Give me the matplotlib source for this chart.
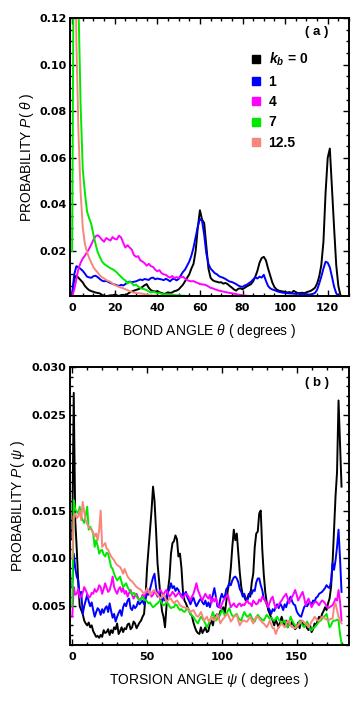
import numpy as np
import matplotlib
matplotlib.use('Agg')
import matplotlib.pyplot as plt
from matplotlib.lines import Line2D
from matplotlib.ticker import MultipleLocator, FormatStrFormatter

plt.rcParams['font.family'] = ['Liberation Sans', 'DejaVu Sans']
plt.rcParams['mathtext.fontset'] = 'custom'
plt.rcParams['mathtext.rm'] = 'Liberation Sans'
plt.rcParams['mathtext.it'] = 'Liberation Sans:italic'
plt.rcParams['mathtext.bf'] = 'Liberation Sans:bold'
plt.rcParams['mathtext.bfit'] = 'Liberation Sans:italic:bold'

# ---------------- data (values in units of 1e-3) ----------------
theta = np.arange(0, 129)   # bond angle, degrees
psi = np.arange(0, 181)     # torsion angle, degrees

series_labels = [r'$\mathbfit{k}_{\mathbfit{b}}$ = 0', '1', '4', '7', '12.5']
series_colors = ['#000000', '#0000ff', '#ff00ff', '#00e800', '#f7877d']

bond_k0 = [
    1.0, 8.0, 9.5, 8.5, 7.5, 6.5, 5.0, 4.0, 3.2, 2.8,
    2.5, 2.2, 2.0, 1.8, 1.2, 0.8, 0.6, 0.8, 1.0, 1.0,
    1.3, 1.0, 0.7, 1.1, 1.2, 1.0, 1.6, 2.2, 2.6, 3.0,
    3.3, 3.6, 4.0, 4.6, 5.3, 5.8, 4.2, 3.2, 2.8, 2.6,
    2.8, 2.3, 2.0, 1.6, 1.8, 2.3, 2.0, 2.2, 2.8, 3.0,
    3.5, 4.5, 5.5, 7.0, 8.5, 10.0, 12.5, 14.5, 20.0, 30.0,
    37.5, 33.5, 32.0, 22.0, 12.5, 8.5, 7.5, 7.0, 6.8, 6.5,
    6.6, 6.0, 6.3, 5.8, 5.0, 4.3, 3.5, 3.0, 3.8, 4.0,
    3.6, 4.2, 4.8, 5.3, 5.8, 7.0, 9.0, 11.5, 15.0, 17.0,
    17.5, 16.0, 12.5, 9.5, 6.5, 4.5, 3.5, 3.0, 2.8, 2.6,
    2.5, 2.2, 2.4, 2.0, 2.9, 2.4, 1.9, 2.0, 2.1, 1.9,
    2.3, 2.6, 2.9, 3.5, 4.2, 6.0, 9.0, 14.0, 24.0, 45.0,
    60.0, 64.0, 47.0, 30.0, 14.0, 5.0, 1.0, 0.3, 0.2]
bond_k1 = [
    1.4, 10.0, 13.5, 13.0, 12.3, 11.5, 10.3, 9.0, 8.7, 8.5,
    9.2, 9.4, 8.8, 8.0, 7.3, 7.0, 7.2, 6.7, 6.3, 5.9,
    5.6, 5.3, 5.0, 5.5, 5.2, 5.8, 6.5, 6.9, 6.6, 6.8,
    7.0, 7.4, 7.8, 7.5, 8.0, 7.8, 7.6, 8.4, 8.6, 7.9,
    8.2, 8.0, 7.8, 7.5, 8.1, 7.6, 7.0, 7.9, 8.1, 7.4,
    8.0, 9.5, 11.0, 12.0, 13.7, 15.5, 18.0, 21.5, 26.0, 30.5,
    33.8, 33.0, 27.0, 19.0, 14.5, 12.5, 11.5, 10.5, 10.0, 9.2,
    8.8, 8.5, 8.0, 7.4, 6.9, 6.7, 6.3, 5.8, 5.2, 4.8,
    4.6, 5.2, 5.5, 6.2, 6.8, 7.8, 8.7, 8.2, 9.0, 8.6,
    9.8, 7.2, 5.0, 4.0, 3.5, 3.2, 2.8, 2.5, 2.3, 2.1,
    2.0, 1.9, 1.8, 1.8, 1.7, 1.6, 1.7, 1.5, 1.6, 1.4,
    1.5, 1.3, 1.4, 1.6, 2.0, 3.3, 6.0, 9.0, 12.5, 15.4,
    15.0, 13.0, 9.0, 4.7, 1.9, 0.6, 0.3, 0.3, 0.3]
bond_k4 = [
    0.5, 3.5, 8.0, 12.5, 15.0, 16.8, 18.0, 19.5, 21.0, 22.8,
    24.8, 26.3, 26.8, 26.0, 24.8, 24.0, 25.6, 25.0, 24.5, 26.0,
    25.2, 25.0, 26.6, 25.8, 23.5, 21.5, 22.5, 21.5, 20.6, 18.3,
    17.5, 17.8, 16.0, 15.5, 14.8, 13.7, 14.5, 13.5, 13.2, 12.0,
    11.3, 11.8, 10.5, 10.0, 9.8, 9.0, 8.6, 9.3, 8.4, 8.8,
    8.5, 8.7, 9.0, 8.2, 7.5, 7.2, 7.0, 7.1, 6.6, 6.3,
    5.8, 5.7, 5.6, 5.3, 4.8, 4.2, 4.0, 3.6, 3.3, 3.0,
    2.8, 2.6, 2.4, 2.2, 2.0, 1.9, 1.7, 1.5, 1.3, 1.2,
    1.0, 0.9, 0.8, 0.7, 0.6, 0.6, 0.5, 0.5, 0.5, 0.5,
    0.5, 0.5, 0.5, 0.4, 0.4, 0.4, 0.4, 0.4, 0.4, 0.4,
    0.4, 0.4, 0.4, 0.4, 0.4, 0.4, 0.4, 0.4, 0.4, 0.4,
    0.4, 0.4, 0.4, 0.4, 0.4, 0.4, 0.4, 0.4, 0.4, 0.4,
    0.4, 0.4, 0.4, 0.4, 0.4, 0.4, 0.4, 0.4, 0.4]
bond_k7 = [
    20.0, 200.0, 200.0, 125.0, 82.0, 55.0, 45.0, 37.0, 34.0, 31.5,
    27.0, 23.0, 19.5, 17.5, 15.5, 14.5, 13.8, 13.2, 12.6, 12.2,
    11.6, 10.8, 9.8, 8.9, 8.0, 7.4, 6.0, 6.8, 6.2, 5.2,
    5.6, 4.8, 4.2, 3.8, 3.6, 3.2, 2.6, 2.2, 2.5, 2.3,
    1.9, 2.0, 1.6, 1.4, 1.5, 1.3, 1.4, 1.2, 1.2, 1.0,
    1.1, 0.9, 0.8, 0.8, 0.6, 0.5, 0.4, 0.3, 0.3, 0.3,
    0.3, 0.3, 0.3, 0.3, 0.3, 0.3, 0.3, 0.3, 0.3, 0.3,
    0.3, 0.3, 0.3, 0.3, 0.3, 0.3, 0.3, 0.3, 0.3, 0.3,
    0.3, 0.3, 0.3, 0.3, 0.3, 0.3, 0.3, 0.3, 0.3, 0.3,
    0.3, 0.3, 0.3, 0.3, 0.3, 0.3, 0.3, 0.3, 0.3, 0.3,
    0.3, 0.3, 0.3, 0.3, 0.3, 0.3, 0.3, 0.3, 0.3, 0.3,
    0.3, 0.3, 0.3, 0.3, 0.3, 0.3, 0.3, 0.3, 0.3, 0.3,
    0.3, 0.3, 0.3, 0.3, 0.3, 0.3, 0.3, 0.3, 0.3]
bond_k12 = [
    200.0, 200.0, 110.0, 70.0, 45.0, 30.0, 23.0, 19.5, 17.0, 15.0,
    13.0, 11.8, 10.8, 9.5, 8.8, 8.2, 7.6, 7.1, 6.8, 6.0,
    5.4, 5.0, 4.6, 4.3, 4.0, 3.6, 3.2, 2.8, 2.4, 2.1,
    2.0, 1.9, 1.8, 1.7, 1.5, 1.3, 1.1, 1.0, 0.9, 0.9,
    0.8, 0.7, 0.6, 0.6, 0.5, 0.5, 0.4, 0.4, 0.4, 0.3,
    0.3, 0.3, 0.3, 0.3, 0.3, 0.3, 0.3, 0.3, 0.3, 0.3,
    0.3, 0.3, 0.3, 0.3, 0.3, 0.3, 0.3, 0.3, 0.3, 0.3,
    0.3, 0.3, 0.3, 0.3, 0.3, 0.3, 0.3, 0.3, 0.3, 0.3,
    0.3, 0.3, 0.3, 0.3, 0.3, 0.3, 0.3, 0.3, 0.3, 0.3,
    0.3, 0.3, 0.3, 0.3, 0.3, 0.3, 0.3, 0.3, 0.3, 0.3,
    0.3, 0.3, 0.3, 0.3, 0.3, 0.3, 0.3, 0.3, 0.3, 0.3,
    0.3, 0.3, 0.3, 0.3, 0.3, 0.3, 0.3, 0.3, 0.3, 0.3,
    0.3, 0.3, 0.3, 0.3, 0.3, 0.3, 0.3, 0.3, 0.3]

tors_k0 = [
    12.0, 27.3, 14.0, 11.0, 7.5, 5.0, 4.6, 4.2, 3.5, 3.2,
    3.0, 3.3, 2.8, 3.0, 2.4, 2.1, 1.8, 1.9, 1.7, 2.0,
    1.8, 2.5, 2.2, 2.3, 2.6, 2.0, 2.5, 2.2, 2.8, 2.6,
    3.2, 2.1, 2.4, 2.8, 2.3, 2.7, 2.6, 3.1, 3.2, 2.6,
    2.8, 3.4, 3.2, 2.7, 3.0, 3.3, 3.5, 3.9, 4.2, 6.0,
    9.0, 11.0, 13.0, 15.0, 17.5, 16.0, 13.0, 9.5, 7.7, 6.0,
    4.5, 3.9, 2.8, 5.0, 6.7, 8.0, 10.5, 11.6, 11.8, 12.4,
    12.0, 10.2, 10.5, 9.0, 6.5, 5.6, 5.3, 4.9, 4.6, 4.2,
    4.0, 3.3, 2.8, 2.4, 2.2, 2.1, 2.8, 2.2, 2.5, 2.8,
    2.3, 2.4, 3.2, 3.5, 3.0, 3.8, 4.0, 4.2, 3.8, 4.5,
    4.6, 4.9, 4.3, 5.5, 6.7, 7.5, 9.0, 11.2, 13.0, 11.9,
    12.6, 10.5, 8.5, 7.0, 6.2, 6.0, 5.6, 5.8, 6.3, 6.0,
    7.5, 8.4, 11.2, 12.6, 12.8, 14.7, 15.0, 11.0, 8.4, 6.5,
    5.4, 4.6, 4.2, 3.8, 3.5, 3.0, 3.6, 3.2, 2.8, 3.4,
    3.9, 3.3, 2.9, 3.5, 2.8, 3.3, 3.0, 3.4, 3.0, 2.6,
    2.8, 3.3, 2.7, 3.5, 3.2, 2.9, 3.1, 2.7, 2.5, 3.0,
    2.3, 2.6, 3.2, 3.0, 3.5, 3.9, 3.6, 4.2, 4.5, 4.9,
    4.6, 5.3, 5.8, 7.0, 9.5, 13.0, 16.5, 19.0, 26.5, 22.0,
    17.5]
tors_k1 = [
    7.0, 10.5, 9.0, 8.1, 7.7, 6.0, 6.5, 4.2, 5.0, 5.6,
    6.2, 5.5, 5.0, 5.4, 4.6, 3.9, 4.4, 4.8, 4.6, 4.1,
    4.7, 4.3, 4.8, 5.0, 4.4, 5.3, 4.5, 3.8, 4.2, 3.4,
    3.9, 4.3, 4.6, 4.0, 4.9, 5.3, 5.0, 5.6, 5.8, 4.8,
    4.6, 5.1, 4.8, 5.0, 5.5, 5.2, 5.4, 5.6, 5.2, 5.8,
    6.3, 6.2, 6.8, 7.4, 8.0, 8.4, 7.0, 6.0, 6.4, 5.7,
    5.4, 5.9, 5.6, 6.1, 6.5, 6.8, 7.4, 6.9, 7.1, 6.6,
    6.9, 6.7, 6.3, 6.0, 6.4, 6.2, 6.5, 5.9, 5.6, 5.2,
    5.6, 5.9, 5.4, 5.0, 5.3, 5.6, 5.8, 5.4, 5.2, 5.6,
    5.0, 5.4, 4.9, 5.6, 6.2, 6.9, 6.0, 5.0, 4.9, 5.8,
    6.3, 5.9, 6.0, 6.8, 7.0, 7.4, 7.2, 7.7, 8.0, 8.1,
    7.9, 7.5, 6.8, 6.5, 6.0, 6.3, 5.8, 5.6, 6.0, 6.5,
    6.3, 6.7, 6.6, 7.5, 7.9, 7.9, 7.2, 6.7, 5.8, 5.6,
    5.2, 4.9, 4.6, 4.2, 4.7, 4.5, 4.9, 5.2, 4.8, 5.3,
    5.0, 4.6, 5.2, 4.9, 5.5, 5.7, 6.0, 5.5, 5.2, 5.1,
    4.5, 4.2, 4.0, 3.9, 4.4, 4.9, 5.1, 5.0, 5.3, 5.4,
    5.2, 5.6, 5.5, 5.9, 6.0, 6.3, 6.4, 6.5, 6.7, 6.9,
    7.2, 7.0, 6.9, 7.6, 9.5, 8.8, 9.8, 11.2, 13.0, 10.0,
    6.5]
tors_k4 = [
    3.9, 7.0, 6.2, 6.3, 6.8, 5.9, 6.0, 6.4, 7.0, 6.7,
    6.3, 5.9, 6.0, 6.4, 6.3, 6.8, 6.5, 6.7, 7.2, 7.0,
    6.3, 6.8, 7.4, 6.9, 6.5, 6.7, 7.3, 8.1, 7.0, 6.6,
    6.3, 6.8, 7.0, 6.5, 6.9, 6.3, 6.6, 6.0, 6.4, 6.7,
    6.2, 5.8, 6.1, 6.3, 5.9, 5.6, 5.8, 6.2, 6.0, 6.4,
    6.5, 6.7, 6.3, 6.0, 6.2, 6.6, 6.3, 6.1, 6.5, 6.7,
    6.4, 6.2, 6.5, 6.7, 6.3, 6.0, 6.2, 6.5, 6.3, 6.0,
    6.2, 6.4, 6.3, 6.0, 5.8, 6.1, 6.3, 6.2, 5.9, 5.6,
    6.0, 6.3, 6.8, 7.4, 6.7, 6.3, 5.9, 5.6, 6.0, 6.3,
    6.0, 5.8, 6.2, 5.3, 5.8, 5.5, 5.9, 5.3, 5.0, 4.8,
    5.2, 5.6, 5.8, 6.0, 6.2, 5.5, 4.9, 5.1, 5.3, 5.0,
    4.9, 5.2, 5.3, 5.0, 5.2, 5.1, 5.4, 5.6, 5.3, 5.3,
    5.0, 5.6, 5.4, 5.2, 5.3, 5.7, 5.5, 6.0, 5.8, 5.6,
    5.2, 4.9, 5.4, 5.8, 6.0, 5.3, 4.8, 5.0, 5.1, 5.4,
    5.6, 5.9, 6.1, 6.3, 5.8, 5.3, 5.7, 6.0, 6.3, 6.7,
    6.2, 5.6, 5.9, 6.2, 6.5, 5.9, 5.1, 5.5, 5.8, 5.3,
    4.9, 5.2, 5.4, 5.5, 5.3, 5.1, 5.4, 5.6, 5.5, 5.3,
    5.0, 4.8, 4.9, 5.0, 5.1, 5.4, 5.8, 5.6, 6.7, 5.5,
    3.5]
tors_k7 = [
    5.0, 16.1, 15.1, 14.9, 14.7, 15.4, 14.4, 14.0, 13.7, 14.5,
    15.4, 13.0, 13.3, 13.0, 12.6, 11.2, 11.9, 11.3, 10.5, 10.8,
    10.9, 10.4, 10.2, 10.6, 10.5, 9.8, 9.1, 8.9, 8.4, 8.0,
    7.7, 7.9, 8.1, 7.5, 7.0, 7.2, 7.4, 7.0, 6.7, 6.5,
    6.2, 6.4, 6.3, 6.0, 5.8, 5.6, 5.8, 6.0, 5.7, 5.6,
    5.5, 5.3, 5.4, 5.1, 4.9, 5.0, 5.2, 5.3, 5.5, 5.6,
    5.3, 5.1, 5.2, 5.4, 5.3, 5.0, 4.8, 4.9, 4.9, 5.2,
    5.1, 4.8, 4.6, 4.7, 4.5, 4.4, 4.6, 4.8, 4.5, 4.2,
    4.0, 3.9, 3.6, 3.4, 3.2, 3.6, 3.9, 3.7, 3.5, 3.2,
    2.8, 3.1, 3.5, 3.9, 4.4, 3.9, 3.5, 3.7, 3.9, 4.2,
    4.6, 4.4, 4.0, 4.2, 4.5, 4.8, 4.3, 4.0, 3.9, 4.1,
    4.2, 3.8, 3.6, 3.5, 4.0, 4.4, 4.1, 3.9, 4.0, 4.2,
    3.8, 3.6, 3.4, 3.8, 4.1, 3.9, 3.7, 3.6, 3.5, 3.8,
    4.1, 3.9, 3.7, 3.8, 3.6, 3.5, 3.7, 3.9, 3.6, 3.4,
    3.2, 3.4, 3.5, 3.1, 2.8, 3.3, 3.9, 3.5, 3.2, 3.0,
    2.8, 3.1, 3.5, 3.2, 3.0, 2.8, 3.1, 3.4, 3.0, 2.6,
    2.5, 2.7, 2.8, 3.0, 3.2, 3.4, 3.5, 3.7, 3.9, 4.0,
    4.2, 3.5, 2.8, 3.0, 3.4, 3.5, 3.5, 3.6, 3.5, 2.1,
    1.1]
tors_k12 = [
    10.0, 14.4, 14.7, 14.2, 14.4, 15.0, 14.0, 15.9, 14.9, 14.0,
    13.6, 13.3, 13.1, 13.0, 12.7, 12.3, 12.6, 11.9, 13.0, 15.0,
    11.2, 11.4, 11.6, 11.0, 10.9, 10.5, 10.2, 10.0, 9.8, 9.5,
    9.3, 9.2, 9.1, 8.8, 8.4, 8.9, 8.5, 8.1, 7.9, 7.7,
    7.6, 7.4, 7.2, 7.0, 6.9, 6.8, 6.7, 6.5, 6.3, 6.5,
    6.9, 6.6, 6.2, 6.4, 6.6, 6.7, 6.4, 6.2, 6.0, 5.8,
    6.0, 6.2, 5.9, 5.5, 5.6, 5.8, 5.8, 5.5, 5.3, 5.5,
    5.6, 5.4, 5.1, 5.0, 4.9, 4.9, 4.8, 4.8, 4.6, 4.4,
    4.5, 4.6, 4.3, 4.0, 3.9, 4.1, 4.4, 4.0, 3.5, 3.7,
    3.9, 3.5, 3.4, 3.9, 3.7, 3.5, 3.8, 4.2, 3.7, 3.2,
    3.5, 3.7, 3.9, 4.1, 4.2, 3.8, 3.4, 3.6, 3.9, 4.0,
    4.1, 3.5, 3.0, 3.3, 3.5, 3.5, 3.4, 3.4, 3.7, 3.9,
    3.5, 3.2, 3.6, 3.9, 3.9, 3.7, 3.5, 3.3, 3.2, 3.0,
    2.8, 3.1, 3.5, 3.1, 2.7, 2.7, 2.1, 2.5, 2.8, 3.0,
    3.2, 3.0, 2.8, 3.1, 3.5, 3.4, 3.0, 2.8, 2.8, 2.7,
    2.9, 3.0, 3.2, 3.4, 3.5, 3.3, 3.2, 3.0, 2.8, 3.1,
    3.4, 3.6, 3.9, 3.7, 3.5, 3.5, 3.7, 3.9, 3.8, 3.7,
    3.6, 3.5, 3.6, 3.7, 3.7, 4.9, 5.3, 4.6, 3.9, 3.5,
    3.2]

bond_series = [bond_k0, bond_k1, bond_k4, bond_k7, bond_k12]
tors_series = [tors_k0, tors_k1, tors_k4, tors_k7, tors_k12]

# ---------------- figure ----------------
fig = plt.figure(figsize=(3.6, 7.08), dpi=100)
ax1 = fig.add_axes([70/360, 1-296/708, 279/360, 278/708])
ax2 = fig.add_axes([70/360, 1-645/708, 279/360, 278/708])

for vals, col in zip(bond_series, series_colors):
    ax1.plot(theta, np.array(vals) * 1e-3, color=col, lw=1.4)
for vals, col in zip(tors_series, series_colors):
    ax2.plot(psi, np.array(vals) * 1e-3, color=col, lw=1.4)

ax1.set_xlim(-1, 130)
ax1.set_ylim(0.0007, 0.12)
ax2.set_xlim(-1.5, 185)
ax2.set_ylim(0.00095, 0.030)

ax1.xaxis.set_major_locator(MultipleLocator(20))
ax1.xaxis.set_minor_locator(MultipleLocator(5))
ax1.yaxis.set_major_locator(MultipleLocator(0.02))
ax1.yaxis.set_minor_locator(MultipleLocator(0.005))
ax1.yaxis.set_major_formatter(FormatStrFormatter('%.2f'))
ax2.xaxis.set_major_locator(MultipleLocator(50))
ax2.xaxis.set_minor_locator(MultipleLocator(10))
ax2.yaxis.set_major_locator(MultipleLocator(0.005))
ax2.yaxis.set_minor_locator(MultipleLocator(0.001))
ax2.yaxis.set_major_formatter(FormatStrFormatter('%.3f'))

for ax in (ax1, ax2):
    for sp in ax.spines.values():
        sp.set_linewidth(1.4)
    ax.tick_params(which='both', direction='in', top=True, right=True,
                   width=1.0, labelsize=8.0)
    ax.tick_params(which='major', length=4)
    ax.tick_params(which='minor', length=2.2)
    ax.tick_params(axis='x', which='major', pad=5)
    ax.tick_params(axis='y', which='major', pad=2.5)
    for lab in ax.get_xticklabels() + ax.get_yticklabels():
        lab.set_fontweight('bold')
        lab.set_fontfamily('DejaVu Sans')

ax1.set_xlabel(r'BOND ANGLE $\theta$ ( degrees )', fontsize=10)
ax1.set_ylabel(r'PROBABILITY $P$( $\theta$ )', fontsize=10)
ax2.set_xlabel(r'TORSION ANGLE $\psi$ ( degrees )', fontsize=10)
ax2.set_ylabel(r'PROBABILITY $P$( $\psi$ )', fontsize=10)
ax1.xaxis.set_label_coords(0.5, -0.094)
ax1.yaxis.set_label_coords(-0.122, 0.5)
ax2.xaxis.set_label_coords(0.5, -0.095)
ax2.yaxis.set_label_coords(-0.154, 0.5)

ax1.text(0.883, 0.95, '( a )', transform=ax1.transAxes, ha='center',
         va='center', fontsize=9.5, fontweight='bold')
ax2.text(0.887, 0.941, '( b )', transform=ax2.transAxes, ha='center',
         va='center', fontsize=9.5, fontweight='bold')

handles = [Line2D([], [], ls='none', marker='s', markersize=5.8,
                  color=c) for c in series_colors]
leg = ax1.legend(handles, series_labels, loc='upper left',
                 bbox_to_anchor=(0.642, 0.882), frameon=False,
                 prop={'weight': 'bold', 'size': 10}, handlelength=1.0,
                 handletextpad=0.4, labelspacing=0.46, borderpad=0,
                 borderaxespad=0)

fig.savefig('out.png', dpi=100)
